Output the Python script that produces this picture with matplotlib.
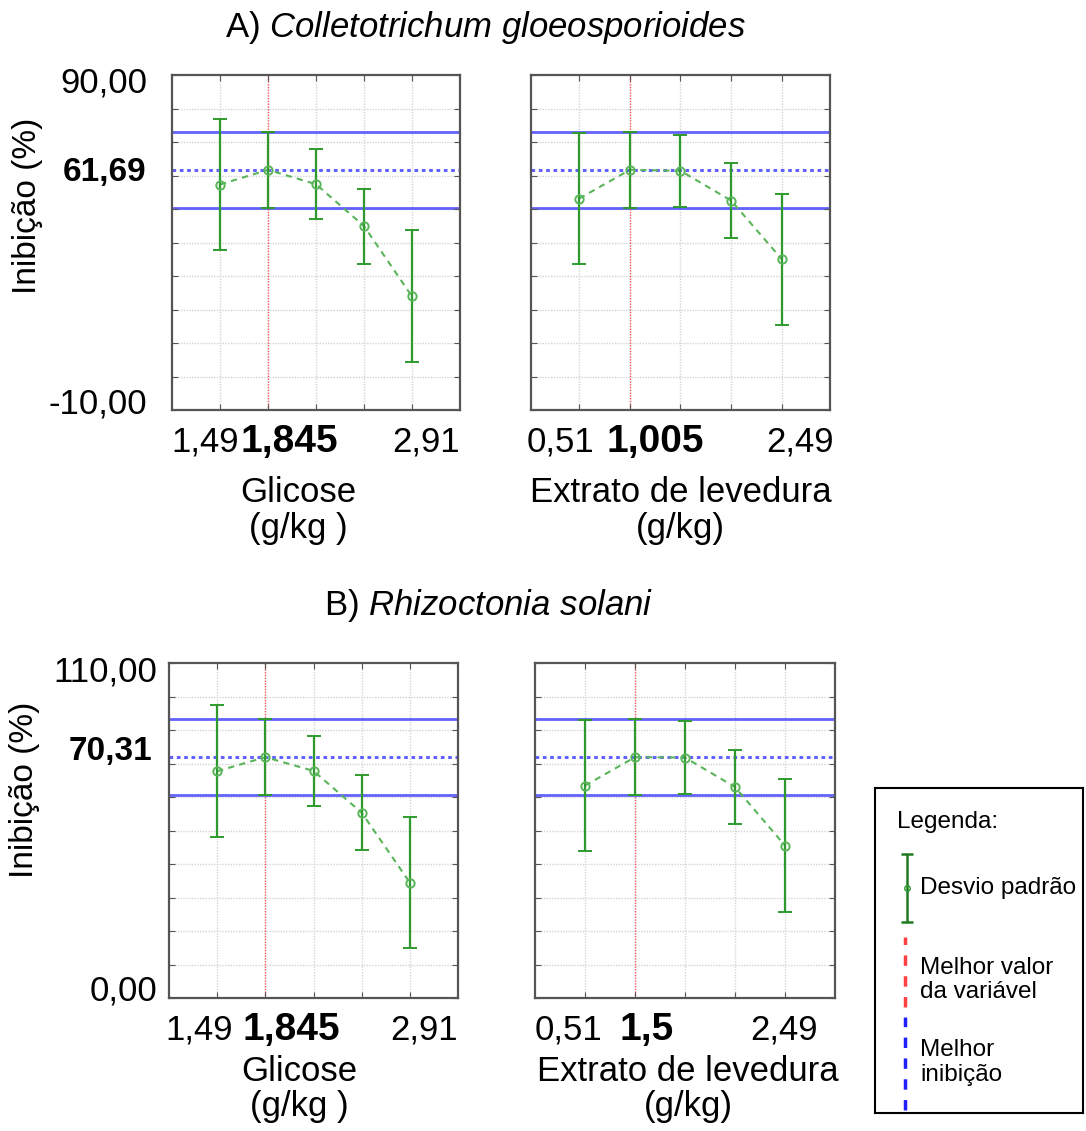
import matplotlib
matplotlib.use('Agg')
import matplotlib.pyplot as plt
from matplotlib.transforms import ScaledTranslation, blended_transform_factory

plt.rcParams['font.family'] = ['Liberation Sans', 'DejaVu Sans']
plt.rcParams['mathtext.fontset'] = 'custom'
plt.rcParams['mathtext.rm'] = 'Liberation Sans'
plt.rcParams['mathtext.it'] = 'Liberation Sans:italic'

# Data
glic_x = [1.49, 1.845, 2.20, 2.555, 2.91]
lev_x = [0.51, 1.005, 1.50, 1.995, 2.49]
glic_ticklabels = ['1,49', '1,845', '', '', '2,91']
levA_ticklabels = ['0,51', '1,005', '', '', '2,49']
levB_ticklabels = ['0,51', '1,5', '', '', '2,49']

# A) Colletotrichum gloeosporioides
a_glic_mean = [57.3, 61.69, 57.4, 44.9, 23.9]
a_glic_sd = [19.6, 11.35, 10.45, 11.2, 19.7]
a_lev_mean = [53.1, 61.69, 61.4, 52.5, 35.0]
a_lev_sd = [19.5, 11.4, 10.8, 11.25, 19.6]

# B) Rhizoctonia solani
b_glic_mean = [66.2, 70.31, 66.3, 54.1, 33.7]
b_glic_sd = [19.3, 11.0, 10.2, 10.9, 19.2]
b_lev_mean = [62.0, 70.31, 70.2, 61.6, 44.5]
b_lev_sd = [19.1, 11.1, 10.6, 10.9, 19.3]

best_idx = 1
a_ylim = (-10, 90)
b_ylim = (0, 97.8)
a_ylabels = ['-10,00', '61,69', '90,00']
b_ylabels = ['0,00', '70,31', '110,00']

GREEN = '#2e9a2e'
GREEN_L = '#5ab55a'
BLUE = '#3b3bff'
RED = '#ff4040'
SPINE = '#555555'

fig = plt.figure(figsize=(10.86, 11.31), dpi=100)


def offset(dx, dy):
    return ScaledTranslation(dx / 100, dy / 100, fig.dpi_scale_trans)


def panel(rect, x, mean, sd, ylim, xmargin, xlabels, xshift, ylabels, yshift,
          xlab, xlab_pos, show_y):
    ax = fig.add_axes(rect)
    step = x[1] - x[0]
    ax.set_xlim(x[0] - xmargin * step, x[-1] + xmargin * step)
    ax.set_ylim(*ylim)
    best = mean[best_idx]
    bsd = sd[best_idx]

    # grid
    ygrid = [ylim[0] + (ylim[1] - ylim[0]) * k / 10 for k in range(11)]
    ax.set_yticks(ygrid)
    ax.set_yticklabels([])
    for yy in ygrid[1:-1]:
        ax.axhline(yy, color='#d4d4d4', lw=1, ls=(0, (1, 1)), zorder=0)
    for xx in x:
        ax.axvline(xx, color='#d4d4d4', lw=1, ls=(0, (1, 1)), zorder=0)

    # reference lines
    ax.axhline(best + bsd, color=BLUE, lw=2, alpha=0.8, zorder=1)
    ax.axhline(best - bsd, color=BLUE, lw=2, alpha=0.8, zorder=1)
    ax.axhline(best, color=BLUE, lw=2.2, ls=(0, (1.2, 1.2)), alpha=0.8, zorder=1)
    ax.axvline(x[best_idx], color=RED, lw=1, ls=(0, (1, 1)), alpha=0.8, zorder=1)

    # means and standard deviation
    ax.plot(x, mean, color=GREEN_L, lw=1.5, ls=(0, (3, 2.5)), zorder=2)
    ax.errorbar(x, mean, yerr=sd, fmt='o', ms=6, mfc='none', mec=GREEN_L, mew=1.4,
                ecolor=GREEN, elinewidth=1.6, capsize=5, capthick=1.6, zorder=3)

    # ticks (marks only)
    ax.set_xticks(x)
    ax.set_xticklabels([])
    ax.tick_params(direction='in', length=4, top=True, right=True, color=SPINE)

    # x tick labels, placed as in the reference
    bt = blended_transform_factory(ax.transData, ax.transAxes)
    for i, (xx, lab) in enumerate(zip(x, xlabels)):
        if not lab:
            continue
        bold = i == best_idx
        ax.text(xx, 0, lab, transform=bt + offset(xshift[i], -32), ha='center',
                va='center', fontsize=28 if bold else 25,
                fontweight='bold' if bold else 'normal')

    # y tick labels
    if show_y:
        bt = blended_transform_factory(ax.transAxes, ax.transData)
        for i, (yy, lab) in enumerate(zip([ylim[0], best, ylim[1]], ylabels)):
            bold = i == 1
            dx, dy = yshift[i]
            ax.text(0, yy, lab, transform=bt + offset(dx, dy), ha='right',
                    va='center', fontsize=24 if bold else 25,
                    fontweight='bold' if bold else 'normal')

    for s in ax.spines.values():
        s.set_color(SPINE)
        s.set_linewidth(1.6)

    ax.text(xlab_pos[0], xlab_pos[1], xlab, transform=ax.transAxes, ha='center',
            va='center', fontsize=25, linespacing=1.1)
    return ax


axA1 = panel([172 / 1086, 1 - 410 / 1131, 288 / 1086, 335 / 1131], glic_x,
             a_glic_mean, a_glic_sd, a_ylim, 1.0, glic_ticklabels, [-15, 21, 0, 0, 14],
             a_ylabels, [(-25, 6), (-26, -3), (-25, -8)], 'Glicose\n(g/kg )',
             (0.44, -0.30), True)
axA2 = panel([531 / 1086, 1 - 410 / 1131, 299 / 1086, 335 / 1131], lev_x,
             a_lev_mean, a_lev_sd, a_ylim, 0.95, levA_ticklabels, [-19, 25, 0, 0, 18],
             None, None, 'Extrato de levedura\n(g/kg)', (0.50, -0.30), False)
axB1 = panel([169 / 1086, 1 - 998 / 1131, 289 / 1086, 335 / 1131], glic_x,
             b_glic_mean, b_glic_sd, b_ylim, 1.0, glic_ticklabels, [-18, 26, 0, 0, 14],
             b_ylabels, [(-12, 7), (-17, 6), (-12, -9)], 'Glicose\n(g/kg )',
             (0.45, -0.272), True)
axB2 = panel([535 / 1086, 1 - 998 / 1131, 300 / 1086, 335 / 1131], lev_x,
             b_lev_mean, b_lev_sd, b_ylim, 1.0, levB_ticklabels, [-17, 12, 0, 0, -1],
             None, None, 'Extrato de levedura\n(g/kg)', (0.51, -0.272), False)

for ax, ypos in [(axA1, 0.61), (axB1, 0.62)]:
    ax.text(-0.50, ypos, 'Inibição (%)', transform=ax.transAxes, rotation=90,
            ha='center', va='center', fontsize=24)

fig.text(485 / 1086, 1 - 28 / 1131, r'A) $\mathit{Colletotrichum\ gloeosporioides}$',
         ha='center', va='center', fontsize=25)
fig.text(489 / 1086, 1 - 605 / 1131, r'B) $\mathit{Rhizoctonia\ solani}$',
         ha='center', va='center', fontsize=25)

# legend box
lg = fig.add_axes([875 / 1086, 1 - 1113 / 1131, 208 / 1086, 325 / 1131])
lg.set_xlim(0, 1)
lg.set_ylim(0, 1)
lg.set_xticks([])
lg.set_yticks([])
for s in lg.spines.values():
    s.set_color('black')
    s.set_linewidth(1.5)
lg.text(0.106, 0.895, 'Legenda:', fontsize=17.5, va='center')
lg.errorbar([0.154], [0.692], yerr=[0.105], fmt='o', ms=4, mfc='none', mec=GREEN,
            ecolor='#1f7a1f', elinewidth=1.8, capsize=4, capthick=1.8)
lg.text(0.216, 0.692, 'Desvio padrão', fontsize=17.5, va='center')
lg.plot([0.144, 0.144], [0.326, 0.542], color=RED, lw=2.5, ls=(0, (3, 3)))
lg.text(0.216, 0.409, 'Melhor valor\nda variável', fontsize=17.5, va='center',
        linespacing=1.15)
lg.plot([0.144, 0.144], [0.009, 0.295], color='#2020ff', lw=2.5, ls=(0, (3, 3)))
lg.text(0.216, 0.155, 'Melhor\ninibição', fontsize=17.5, va='center', linespacing=1.15)

fig.savefig('out.png', dpi=100)
